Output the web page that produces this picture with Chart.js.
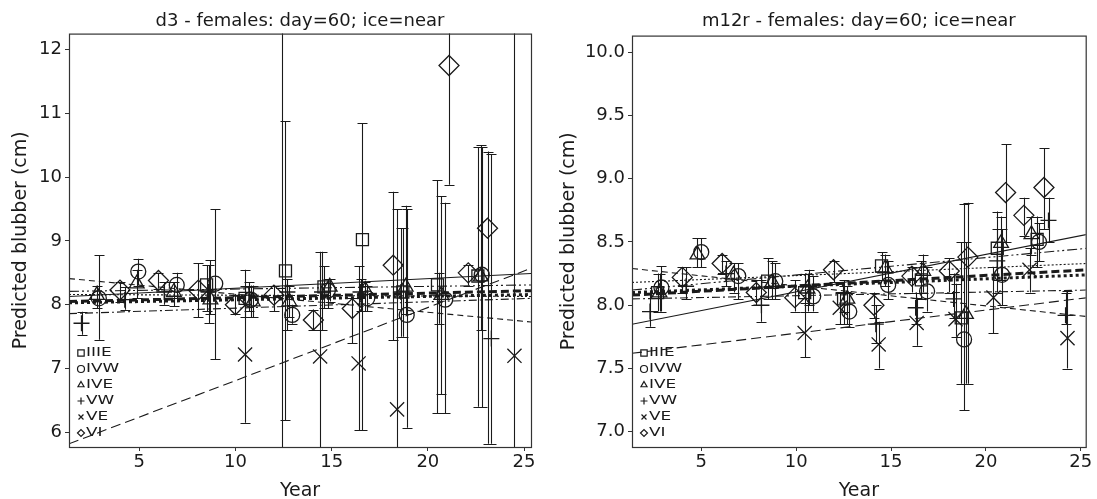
<!DOCTYPE html>
<html>
<head>
<meta charset="utf-8">
<script src="https://cdn.jsdelivr.net/npm/chart.js@4.4.0/dist/chart.umd.min.js"></script>
<style>
  html, body { margin: 0; padding: 0; background: #fff; }
  #wrap { position: relative; width: 1097px; height: 499px; }
  canvas { position: absolute; top: 0; }
</style>
</head>
<body>
<div id="wrap">
  <canvas id="d3Chart" width="548" height="499" style="left:0"></canvas>
  <canvas id="m12rChart" width="549" height="499" style="left:548px"></canvas>
</div>
<script>
// groups, in legend order
const groups = ['IIIE', 'IVW', 'IVE', 'VW', 'VE', 'VI'];
const xTicks = [5, 10, 15, 20, 25];
const d3YTicks = [6, 7, 8, 9, 10, 11, 12];
const m12rYTicks = [7.0, 7.5, 8.0, 8.5, 9.0, 9.5, 10.0];

// each point: [year, predicted, lower, upper]
const d3IIIE = [[8.5, 8.31, 7.9, 8.62], [10.5, 8.1, 7.8, 8.3], [12.6, 8.53, 6.19, 10.88], [14.6, 8.28, 7.95, 8.6],
  [16.6, 9.02, 6.03, 10.85], [18.7, 8.2, 7.5, 9.2], [20.5, 8.31, 6.3, 9.95], [22.6, 8.45, 6.4, 10.47]];
const d3IVW = [[2.9, 8.1, 7.45, 8.78], [4.95, 8.52, 8.3, 8.72], [6.95, 8.31, 8.1, 8.5], [8.95, 8.33, 7.15, 9.5],
  [10.8, 8.08, 7.8, 8.3], [12.95, 7.84, 7.7, 8.0], [14.8, 8.22, 7.95, 8.4], [16.85, 8.1, 7.9, 8.3],
  [18.9, 7.84, 6.07, 9.5], [20.9, 8.08, 6.3, 9.6], [22.8, 8.47, 6.39, 10.47]];
const d3IVE = [[2.8, 8.15, 7.95, 8.3], [4.87, 8.33, 8.1, 8.55], [6.8, 8.2, 7.98, 8.35], [8.7, 8.08, 7.85, 8.7],
  [10.9, 8.05, 7.8, 8.3], [12.8, 8.05, 7.8, 8.3], [14.9, 8.28, 8.05, 8.4], [16.75, 8.23, 7.9, 8.35],
  [18.85, 8.28, 7.85, 9.55], [20.7, 8.15, 6.6, 9.7], [22.75, 8.44, 7.6, 10.5]];
const d3VW = [[2.0, 7.71, 7.53, 7.89], [4.25, 8.08, 7.92, 8.28], [6.3, 8.2, 8.0, 8.35], [8.6, 8.2, 7.71, 8.62],
  [10.7, 8.15, 7.9, 8.35], [12.7, 8.2, 7.6, 8.4], [14.5, 8.2, 7.6, 8.83], [16.5, 8.2, 7.9, 8.4],
  [18.6, 8.2, 7.5, 9.2], [20.6, 8.15, 7.7, 8.5], [23.3, 7.47, 5.82, 10.36]];
const d3VE = [[10.5, 7.22, 6.15, 8.55], [12.4, 5.0, 2.5, 14.5], [14.4, 7.19, 5.2, 8.83], [16.4, 7.08, 6.03, 8.6],
  [18.4, 6.36, 4.5, 9.5], [24.5, 7.2, 0.5, 14.5]];
const d3VI = [[4.0, 8.23, 8.05, 8.35], [6.0, 8.38, 8.25, 8.5], [8.07, 8.23, 7.8, 8.65], [10.0, 8.0, 7.85, 8.15],
  [12.0, 8.15, 7.9, 8.3], [14.05, 7.76, 7.6, 7.92], [16.07, 7.94, 7.4, 8.1], [18.2, 8.62, 7.44, 9.77],
  [21.1, 11.75, 9.88, 14.0], [22.1, 8.5, 8.3, 8.62], [23.1, 9.2, 5.82, 10.4]];

const m12rIIIE = [[2.7, 8.1, 7.95, 8.25], [8.5, 8.19, 8.05, 8.37], [10.45, 8.1, 7.95, 8.25], [12.5, 8.05, 7.85, 8.15],
  [14.5, 8.31, 8.2, 8.42], [16.6, 8.2, 8.05, 8.35], [18.7, 7.9, 7.38, 8.5], [20.6, 8.45, 8.1, 8.74], [22.7, 8.52, 8.3, 8.7]];
const m12rIVW = [[2.9, 8.14, 7.95, 8.31], [5.0, 8.42, 8.3, 8.53], [6.95, 8.23, 8.05, 8.33], [8.9, 8.19, 8.05, 8.33],
  [10.9, 8.07, 7.95, 8.23], [12.8, 7.95, 7.83, 8.1], [14.85, 8.16, 8.05, 8.35], [16.9, 8.11, 7.95, 8.3],
  [18.85, 7.73, 7.17, 8.8], [20.85, 8.24, 8.0, 8.6], [22.8, 8.5, 8.35, 8.65]];
const m12rIVE = [[2.8, 8.1, 7.95, 8.25], [4.8, 8.4, 8.3, 8.53], [6.7, 8.24, 8.1, 8.33], [8.75, 8.18, 8.05, 8.35],
  [10.6, 8.13, 7.95, 8.25], [12.7, 8.05, 7.85, 8.15], [14.7, 8.29, 8.15, 8.4], [16.7, 8.27, 8.1, 8.4],
  [18.95, 7.93, 7.38, 8.5], [20.8, 8.49, 8.2, 8.7], [22.4, 8.56, 8.4, 8.7]];
const m12rVW = [[2.3, 7.95, 7.83, 8.1], [4.2, 8.15, 8.05, 8.3], [6.3, 8.25, 8.15, 8.35], [8.17, 8.0, 7.87, 8.2],
  [10.7, 8.15, 8.0, 8.28], [12.5, 8.1, 7.95, 8.2], [14.2, 7.85, 7.7, 8.0], [16.3, 7.98, 7.85, 8.1],
  [18.3, 8.05, 7.9, 8.25], [20.6, 8.35, 8.2, 8.6], [23.3, 8.67, 8.5, 8.85], [24.2, 7.92, 7.85, 8.1]];
const m12rVE = [[10.45, 7.78, 7.59, 8.02], [12.3, 7.98, 7.85, 8.1], [14.35, 7.69, 7.5, 7.87], [16.35, 7.86, 7.68, 8.06],
  [18.4, 7.89, 7.75, 8.17], [20.4, 8.06, 7.78, 8.3], [22.3, 8.28, 8.1, 8.45], [24.3, 7.74, 7.5, 8.11]];
const m12rVI = [[4.0, 8.22, 8.1, 8.3], [6.1, 8.33, 8.25, 8.4], [7.9, 8.1, 8.0, 8.2], [9.93, 8.06, 7.95, 8.2],
  [11.97, 8.28, 8.18, 8.35], [14.1, 8.0, 7.9, 8.1], [16.1, 8.23, 8.1, 8.3], [18.07, 8.27, 8.1, 8.37],
  [19.05, 8.38, 7.38, 8.81], [21.04, 8.89, 8.5, 9.27], [22.0, 8.71, 8.55, 8.85], [23.06, 8.93, 8.6, 9.24]];

// fitted trend lines: value at first and last year
const trendYears = [1.35, 25.36];
const d3TrendStart = [5.82, 8.41, 8.13, 8.21, 8.16, 7.86, 8.05, 8.03];
const d3TrendEnd = [8.57, 7.73, 8.49, 8.31, 8.13, 8.10, 8.22, 8.16];
const m12rTrendStart = [7.62, 8.29, 7.85, 8.12, 8.18, 8.05, 8.08, 8.10];
const m12rTrendEnd = [8.06, 7.91, 8.56, 8.45, 8.33, 8.12, 8.28, 8.24];

const FONT = 'DejaVu Sans';
const INK = '#1a1a1a';
const markers = [
  {style: 'rect', r: 8.5},
  {style: 'circle', r: 7.5},
  {style: 'triangle', r: 8.5},
  {style: 'cross', r: 8},
  {style: 'crossRot', r: 10},
  {style: 'rectRot', r: 10}
];
const trendStyles = [
  {dash: [10, 5], w: 1.1},
  {dash: [6, 4], w: 1.1},
  {dash: [], w: 1.1},
  {dash: [10, 3, 2, 3, 2, 3], w: 1.1},
  {dash: [2, 2], w: 1.1},
  {dash: [8, 3, 2, 3], w: 1.1},
  {dash: [8, 4], w: 3},
  {dash: [3, 3], w: 3}
];

// vertical error bars, read from the point's lo/hi through the scales
const errorBars = {
  id: 'errorBars',
  beforeDatasetsDraw(chart) {
    const {ctx, chartArea: a, scales: {x, y}} = chart;
    ctx.save();
    ctx.beginPath();
    ctx.rect(a.left, a.top, a.right - a.left, a.bottom - a.top);
    ctx.clip();
    ctx.strokeStyle = INK;
    ctx.lineWidth = 1.1;
    chart.data.datasets.forEach(ds => {
      if (!ds.bars) return;
      ds.data.forEach(p => {
        const px = Math.round(x.getPixelForValue(p.x)) + 0.5;
        const y1 = y.getPixelForValue(p.lo);
        const y2 = y.getPixelForValue(p.hi);
        ctx.beginPath();
        ctx.moveTo(px, y1); ctx.lineTo(px, y2);
        ctx.moveTo(px - 5, Math.round(y1) + 0.5); ctx.lineTo(px + 5, Math.round(y1) + 0.5);
        ctx.moveTo(px - 5, Math.round(y2) + 0.5); ctx.lineTo(px + 5, Math.round(y2) + 0.5);
        ctx.stroke();
      });
    });
    ctx.restore();
  }
};

// box round the plot + legend in the lower left corner
const frameLegend = {
  id: 'frameLegend',
  afterDraw(chart) {
    const {ctx, chartArea: a} = chart;
    ctx.save();
    ctx.strokeStyle = '#333';
    ctx.lineWidth = 1.2;
    ctx.strokeRect(a.left + 0.5, a.top + 0.5, a.right - a.left, a.bottom - a.top);
    ctx.textBaseline = 'middle';
    groups.forEach((g, i) => {
      const ly = a.bottom - 95 + i * 16;
      ctx.strokeStyle = INK;
      ctx.fillStyle = 'rgba(0,0,0,0)';
      Chart.helpers.drawPoint(ctx, {pointStyle: markers[i].style, radius: markers[i].style === 'rect' ? 4.5 : 3.5, borderWidth: 1, rotation: 0}, a.left + 12, ly + 1);
      ctx.fillStyle = INK;
      ctx.save();
      ctx.translate(a.left + 17, ly + 1);
      ctx.scale(1.3, 1);
      ctx.font = '13px ' + FONT;
      ctx.fillText(g, 0, 0);
      ctx.restore();
    });
    ctx.restore();
  }
};

function makeChart(id, title, sets, trendStart, trendEnd, xMax, yMin, yMax, yTicks, decimals, plotLeft, padRight, titleBottom) {
  const datasets = [];
  trendStart.forEach((v, i) => {
    datasets.push({
      type: 'line',
      data: [{x: trendYears[0], y: v}, {x: trendYears[1], y: trendEnd[i]}],
      borderColor: INK,
      borderWidth: trendStyles[i].w,
      borderDash: trendStyles[i].dash,
      pointRadius: 0,
      fill: false
    });
  });
  sets.forEach((rows, i) => {
    datasets.push({
      type: 'scatter',
      label: groups[i],
      bars: true,
      data: rows.map(r => ({x: r[0], y: r[1], lo: r[2], hi: r[3]})),
      pointStyle: markers[i].style,
      pointRadius: markers[i].r,
      borderColor: INK,
      backgroundColor: 'rgba(0,0,0,0)',
      borderWidth: 1.3
    });
  });

  return new Chart(id, {
    type: 'scatter',
    data: {datasets},
    plugins: [errorBars, frameLegend],
    options: {
      responsive: false,
      animation: false,
      layout: {padding: {left: 0, right: padRight, top: 0, bottom: 0}},
      plugins: {
        legend: {display: false},
        tooltip: {enabled: false},
        title: {
          display: true, text: title, fullSize: false, color: INK,
          font: {family: FONT, size: 18, weight: 'normal'},
          padding: {top: 11, bottom: titleBottom}
        }
      },
      scales: {
        x: {
          type: 'linear', min: trendYears[0], max: xMax,
          afterBuildTicks: s => { s.ticks = xTicks.map(v => ({value: v})); },
          afterFit: s => { s.height = 52; },
          grid: {display: true, drawOnChartArea: false, drawTicks: true, tickLength: 4, color: '#333'},
          border: {display: false},
          ticks: {color: INK, font: {family: FONT, size: 18}, padding: 1, maxRotation: 0, autoSkip: false},
          title: {display: true, text: 'Year', color: INK, font: {family: FONT, size: 19}, padding: {top: 0, bottom: -3}}
        },
        y: {
          type: 'linear', min: yMin, max: yMax,
          afterBuildTicks: s => { s.ticks = yTicks.map(v => ({value: v})); },
          afterFit: s => { s.width = plotLeft; },
          grid: {display: true, drawOnChartArea: false, drawTicks: true, tickLength: 4, color: '#333'},
          border: {display: false},
          ticks: {color: INK, font: {family: FONT, size: 18}, padding: 3, callback: v => v.toFixed(decimals)},
          title: {display: true, text: 'Predicted blubber (cm)', color: INK, font: {family: FONT, size: 19}, padding: {top: 10, bottom: 0}}
        }
      }
    }
  });
}

makeChart('d3Chart', 'd3 - females: day=60; ice=near',
  [d3IIIE, d3IVW, d3IVE, d3VW, d3VE, d3VI], d3TrendStart, d3TrendEnd,
  25.36, 5.77, 12.25, d3YTicks, 0, 69, 17, 1);
makeChart('m12rChart', 'm12r - females: day=60; ice=near',
  [m12rIIIE, m12rIVW, m12rIVE, m12rVW, m12rVE, m12rVI], m12rTrendStart, m12rTrendEnd,
  25.26, 6.88, 10.13, m12rYTicks, 1, 84, 7, 3);
</script>
</body>
</html>
